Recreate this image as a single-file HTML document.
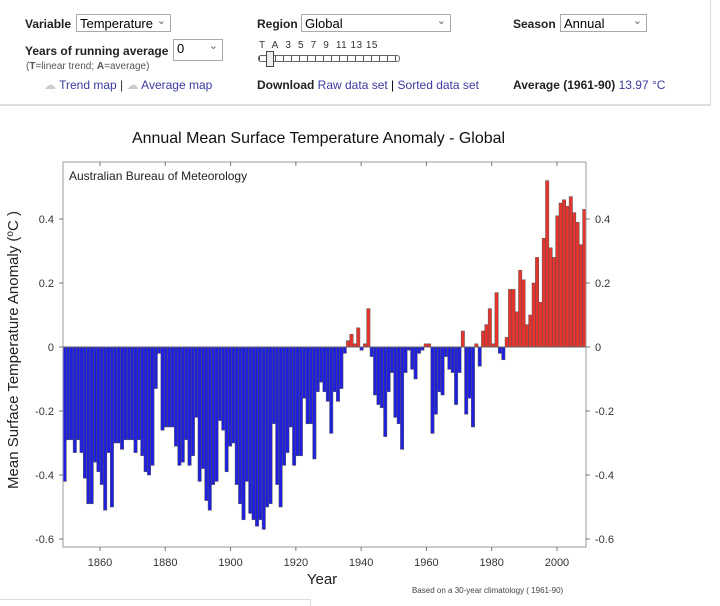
<!DOCTYPE html>
<html><head><meta charset="utf-8">
<style>
body{margin:0;width:720px;height:605px;background:#fff;font-family:"Liberation Sans",sans-serif;overflow:hidden;position:relative}
.a{position:absolute;white-space:nowrap}
.sel{position:absolute;border:1px solid #aaa;background:#fff;font-size:13px;padding:0 3px;height:18px;line-height:18px;box-sizing:border-box}
.sel:after{content:"⌄";position:absolute;right:4px;top:-3px;font-size:11px;color:#666}
.lb{font-size:12px;color:#222;font-weight:bold}
.lk{color:#3a3aa0;font-size:12px}
</style></head><body>
<div class="a" style="left:0;top:0;width:710px;height:104px;border-right:1px solid #ddd;border-bottom:2px solid #ddd"></div>
<div class="a lb" style="left:25px;top:17px">Variable</div>
<div class="sel" style="left:76px;top:14px;width:95px">Temperature</div>
<div class="a lb" style="left:257px;top:17px">Region</div>
<div class="sel" style="left:301px;top:14px;width:150px">Global</div>
<div class="a lb" style="left:513px;top:17px">Season</div>
<div class="sel" style="left:560px;top:14px;width:87px">Annual</div>
<div class="a lb" style="left:25px;top:44px">Years of running average</div>
<div class="sel" style="left:173px;top:39px;width:50px;height:22px">0</div>
<div class="a" style="left:26px;top:61px;font-size:10px;color:#555">(<b>T</b>=linear trend; <b>A</b>=average)</div>
<div class="a" style="left:259px;top:40px;font-size:10px;letter-spacing:0.5px;color:#333">T&nbsp; A&nbsp; 3&nbsp; 5&nbsp; 7&nbsp; 9&nbsp; 11 13 15</div>
<div class="a" style="left:258px;top:55px;width:140px;height:5px;border:1px solid #666;border-radius:3px;background:repeating-linear-gradient(90deg,#555 0 1px,#fff 1px 8px)"></div>
<div class="a" style="left:266px;top:51px;width:6px;height:14px;border:1px solid #444;background:#eee"></div>
<div class="a lk" style="left:44px;top:78px"><span style="color:#ccc">☁</span> Trend map <span style="color:#333">|</span> <span style="color:#ccc">☁</span> Average map</div>
<div class="a" style="left:257px;top:78px;font-size:12px"><b style="color:#222">Download</b> <span class="lk">Raw data set</span> | <span class="lk">Sorted data set</span></div>
<div class="a" style="left:513px;top:78px;font-size:12px"><b style="color:#222">Average (1961-90)</b> <span class="lk">13.97 °C</span></div>
<div class="a" style="left:0;top:599px;width:310px;height:6px;border-top:1px solid #ddd;border-right:1px solid #ddd"></div>
<svg id="s" class="a" style="left:0;top:0" width="720" height="605"></svg>
<script>
var v1=[-0.42,-0.29,-0.29,-0.33,-0.29,-0.33,-0.41,-0.49,-0.49,-0.36,-0.39,-0.43,-0.51,-0.33,-0.50,-0.30,-0.30,-0.32,-0.29,-0.29,-0.29,-0.33,-0.29,-0.34,-0.39,-0.40,-0.37,-0.13,-0.02,-0.26,-0.25,-0.25,-0.25,-0.31,-0.37,-0.36,-0.29,-0.37,-0.34,-0.22,-0.42,-0.38,-0.48,-0.51,-0.43,-0.42,-0.23,-0.26,-0.39,-0.31,-0.30,-0.43,-0.49,-0.54,-0.42,-0.52,-0.54,-0.56,-0.54,-0.57,-0.50,-0.49,-0.24,-0.43,-0.50,-0.37,-0.33,-0.25,-0.37,-0.34,-0.34,-0.16,-0.24,-0.24,-0.35,-0.14,-0.11,-0.14,-0.17,-0.27,-0.14,-0.17,-0.13,-0.02];
var v2=[0.02,0.04,0.01,0.06,-0.01,0.01,0.12,-0.03,-0.15,-0.18,-0.19,-0.28,-0.14,-0.08,-0.22,-0.24,-0.32,-0.08,-0.01,-0.07,-0.10,-0.02,-0.01,0.01,0.01,-0.27,-0.21,-0.14,-0.15,-0.03,-0.07,-0.08,-0.18,-0.08,0.05,-0.21,-0.16,-0.25,0.01,-0.06,0.05,0.07,0.12,0.01,0.17,-0.02,-0.04,0.03,0.18,0.18,0.11,0.24,0.21,0.07,0.10,0.20,0.28,0.14,0.34,0.52,0.31,0.28,0.41,0.45,0.46,0.44,0.47,0.42,0.39,0.32,0.43];
var v=v1.concat(v2);
var L=63,R=586,T=162,B=547,Z=347,K=320;
var h='';
var w=(R-L)/v.length;
for(var i=0;i<v.length;i++){var x=L+i*w,y=v[i]>=0?Z-v[i]*K:Z,hh=Math.abs(v[i])*K;
h+='<rect x="'+x.toFixed(2)+'" y="'+y.toFixed(1)+'" width="'+w.toFixed(2)+'" height="'+Math.max(hh,0.5).toFixed(1)+'" fill="'+(v[i]>=0?'#e8332d':'#1f1fe0')+'" stroke="#555" stroke-width="0.5"/>';}
h+='<line x1="'+L+'" y1="'+Z+'" x2="'+R+'" y2="'+Z+'" stroke="#666" stroke-width="1"/>';
h+='<rect x="'+L+'" y="'+T+'" width="'+(R-L)+'" height="'+(B-T)+'" fill="none" stroke="#999" stroke-width="1"/>';
var ts=[0.4,0.2,0,-0.2,-0.4,-0.6];
ts.forEach(function(t){var y=Z-t*K;var s=t==0?'0':t.toFixed(1);
h+='<line x1="'+(L-4)+'" y1="'+y+'" x2="'+L+'" y2="'+y+'" stroke="#777"/><line x1="'+R+'" y1="'+y+'" x2="'+(R+4)+'" y2="'+y+'" stroke="#777"/>';
h+='<text x="'+(L-9)+'" y="'+(y+4)+'" text-anchor="end" font-size="11" fill="#333">'+s+'</text>';
h+='<text x="'+(R+9)+'" y="'+(y+4)+'" font-size="11" fill="#333">'+s+'</text>';});
for(var yr=1860;yr<=2000;yr+=20){var x=100+(yr-1860)*3.264;
h+='<line x1="'+x+'" y1="'+B+'" x2="'+x+'" y2="'+(B+4)+'" stroke="#777"/><line x1="'+x+'" y1="'+T+'" x2="'+x+'" y2="'+(T+4)+'" stroke="#777"/>';
h+='<text x="'+x+'" y="566" text-anchor="middle" font-size="11" fill="#333">'+yr+'</text>';}
h+='<text x="132" y="143" font-size="16" fill="#111" textLength="373" lengthAdjust="spacingAndGlyphs">Annual Mean Surface Temperature Anomaly - Global</text>';
h+='<text x="69" y="180" font-size="12" fill="#222">Australian Bureau of Meteorology</text>';
h+='<text x="322" y="584" text-anchor="middle" font-size="15" fill="#222">Year</text>';
h+='<text x="412" y="593" font-size="8" fill="#444">Based on a 30-year climatology ( 1961-90)</text>';
h+='<text transform="translate(18,350) rotate(-90)" text-anchor="middle" font-size="15" fill="#222">Mean Surface Temperature Anomaly (<tspan font-size="10" dy="-5">o</tspan><tspan dy="5">C )</tspan></text>';
document.getElementById('s').innerHTML=h;
</script>
</body></html>
